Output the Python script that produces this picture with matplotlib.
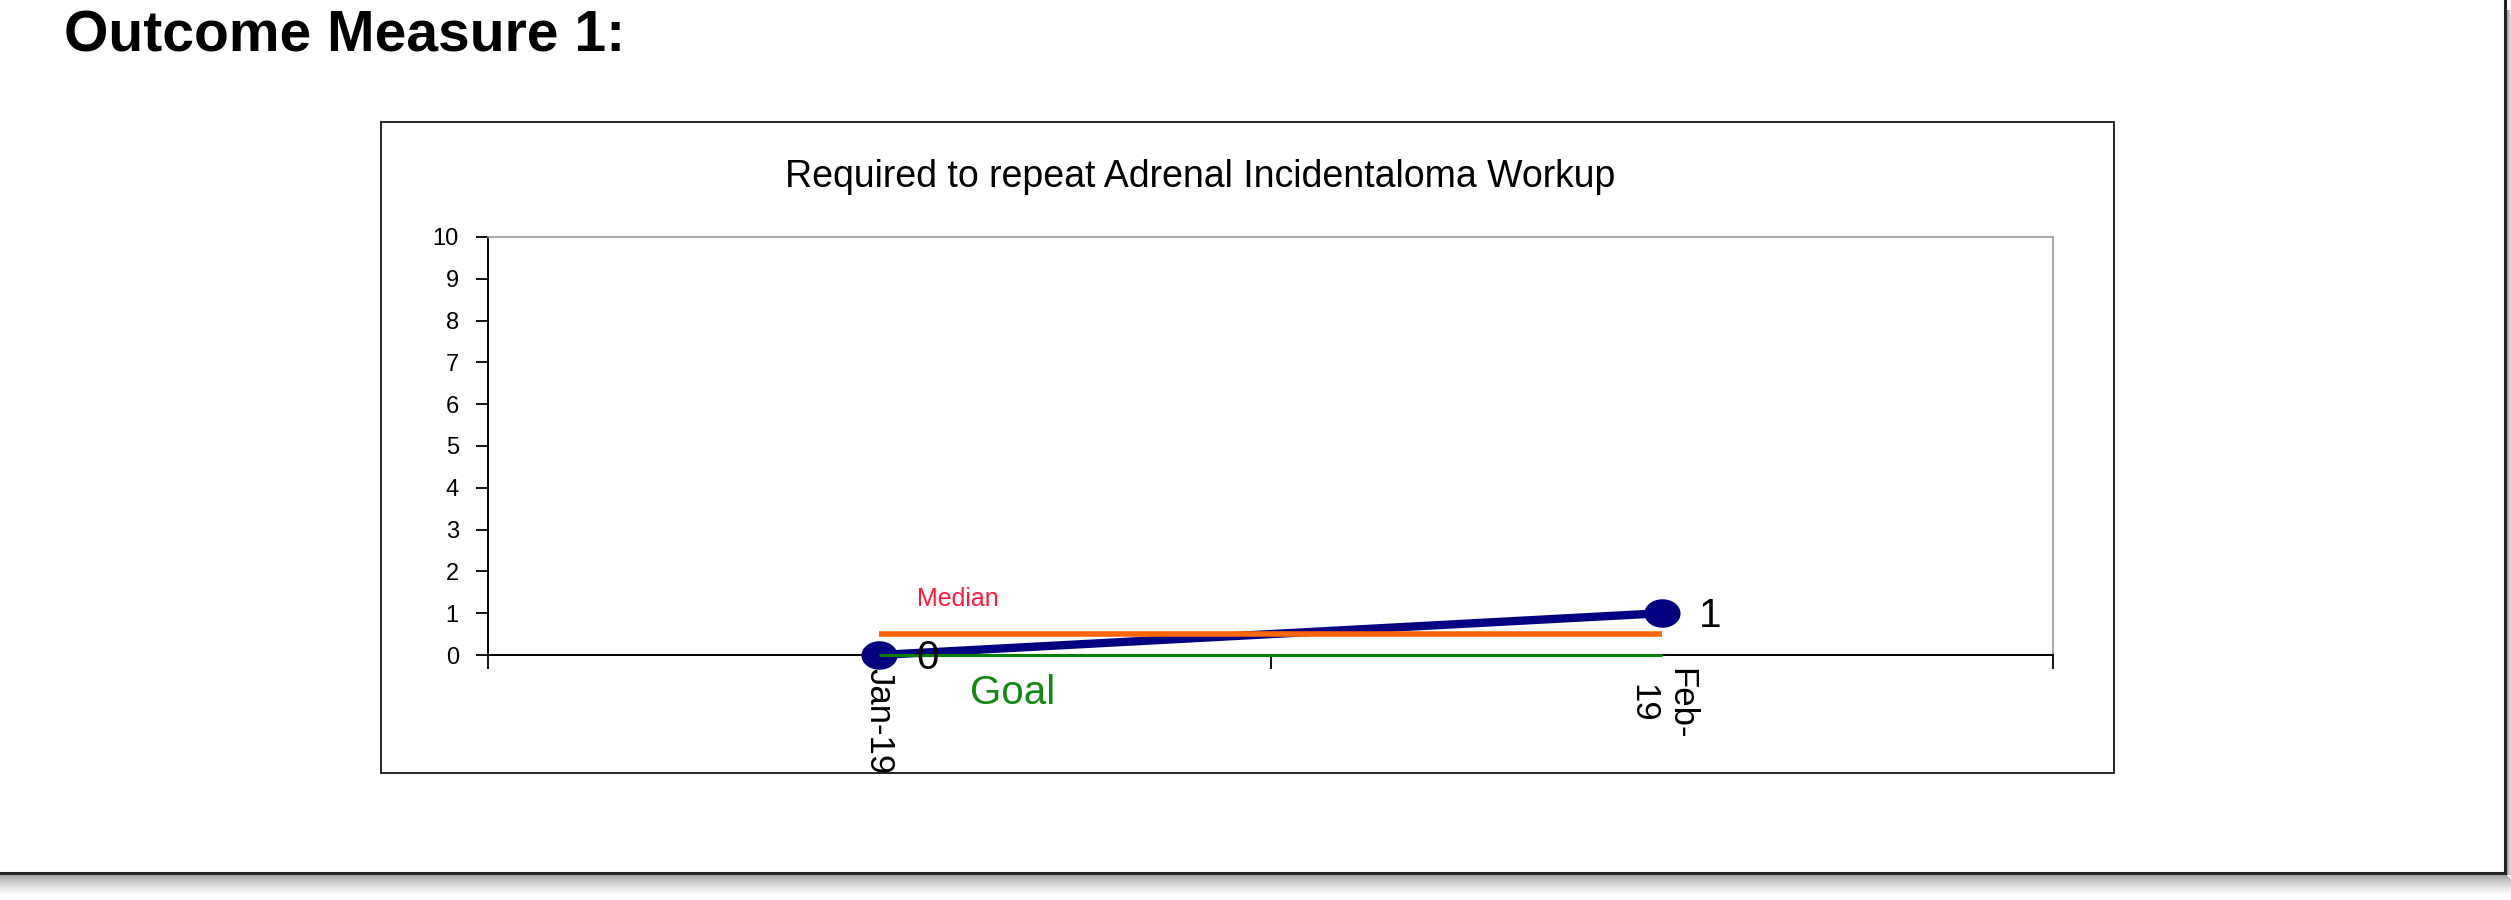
import matplotlib
matplotlib.use("Agg")
import matplotlib.pyplot as plt
import numpy as np
from matplotlib.path import Path
from matplotlib.patches import Rectangle

plt.rcParams['font.family'] = ['Liberation Sans', 'DejaVu Sans']

# ---- data ----
categories = ["Jan-19", "Feb-\n19"]
values = [0, 1]
median_value = 0.5
goal_value = 0
y_ticks = [0, 1, 2, 3, 4, 5, 6, 7, 8, 9, 10]
page_title = "Outcome Measure 1:"
chart_title = "Required to repeat Adrenal Incidentaloma Workup"

W, H = 2511, 900
fig = plt.figure(figsize=(W / 100, H / 100), dpi=100)
fig.patch.set_facecolor('white')

def fx(px):
    return px / W

def fy(py):
    return 1 - py / H

# page border (right and bottom) with shadow
for i in range(22):
    a = 0.35 * (1 - i / 22) ** 1.5
    fig.patches.append(Rectangle((0, fy(875 + i + 1)), fx(2507 + min(i, 4)), 1 / H,
                                 transform=fig.transFigure, facecolor='black', alpha=a,
                                 edgecolor='none', zorder=0))
for i in range(5):
    a = 0.35 * (1 - i / 5)
    fig.patches.append(Rectangle((fx(2507 + i), fy(875)), 1 / W, fy(10) - fy(875),
                                 transform=fig.transFigure, facecolor='black', alpha=a,
                                 edgecolor='none', zorder=0))
fig.add_artist(plt.Line2D([0, fx(2505)], [fy(873), fy(873)], transform=fig.transFigure,
                          color='#222222', lw=2.2))
fig.add_artist(plt.Line2D([fx(2505), fx(2505)], [fy(873), 1.0], transform=fig.transFigure,
                          color='#222222', lw=2.2))

# chart box
fig.patches.append(Rectangle((fx(381), fy(773)), fx(2114) - fx(381), fy(122) - fy(773),
                             transform=fig.transFigure, facecolor='none',
                             edgecolor='black', lw=1.2, zorder=1))

fig.text(fx(64), fy(36), page_title, fontsize=41, fontweight='bold', ha='left', va='center')
fig.text(fx(1200), fy(177), chart_title, fontsize=27, ha='center', va='center')

ax = fig.add_axes([fx(488), fy(655), fx(2053) - fx(488), fy(237) - fy(655)])
x = np.arange(len(categories))

# ellipse marker (image is horizontally stretched)
t = np.linspace(0, 2 * np.pi, 60)
ell = Path(np.column_stack([1.28 * np.cos(t), np.sin(t)]), closed=True)

ax.plot(x, values, color='#000080', lw=6, marker=ell, markersize=25,
        markerfacecolor='#000080', markeredgecolor='#000080', zorder=3, clip_on=False)
ax.plot(x, [median_value] * len(x), color='#FF6600', lw=4, zorder=4, solid_capstyle='butt')
ax.plot(x, [goal_value] * len(x), color='#008000', lw=2.2, zorder=5, clip_on=False,
        solid_capstyle='butt')

for xi, v in zip(x, values):
    ax.annotate(str(v), (xi, v), xytext=(35, -2), textcoords='offset points',
                ha='center', va='center', fontsize=29, zorder=6, annotation_clip=False)

ax.text(0.10, median_value + 0.85, "Median", color='#ff1a3a', fontsize=18,
        ha='center', va='center')
ax.text(0.17, goal_value - 0.9, "Goal", color='#108a10', fontsize=29,
        ha='center', va='center', clip_on=False)

ax.set_xlim(-0.5, len(categories) - 0.5)
ax.set_ylim(0, 10)
ax.set_yticks(y_ticks)
ax.set_yticklabels([str(v) for v in y_ticks], fontsize=17)
ax.set_xticks(np.arange(-0.5, len(categories), 1.0))
ax.set_xticklabels([])
ax.set_xticks(x, minor=True)
ax.set_xticklabels(categories, minor=True, rotation=270, fontsize=25,
                   va='top', ha='center', multialignment='center')
ax.tick_params(axis='x', which='major', direction='out', length=10, width=1.3)
ax.tick_params(axis='x', which='minor', length=0, pad=9)
ax.tick_params(axis='y', direction='out', length=9, width=1.3, pad=12)

for s in ['top', 'right']:
    ax.spines[s].set_color('#9a9a9a')
    ax.spines[s].set_linewidth(1.2)
for s in ['left', 'bottom']:
    ax.spines[s].set_color('black')
    ax.spines[s].set_linewidth(1.4)

fig.savefig("out.png", dpi=100)
